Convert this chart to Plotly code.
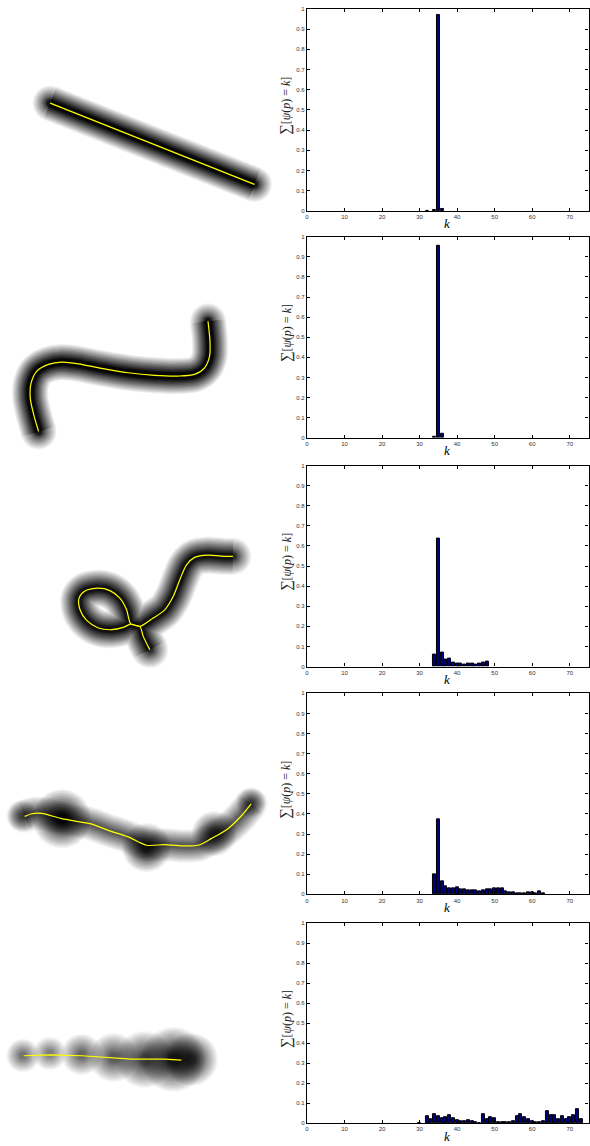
import plotly.graph_objects as go

W, H = 590, 1146

# ---------------- histogram data (k -> fraction) ----------------
hist1_k = [32, 34, 35, 36]
hist1_v = [0.002, 0.007, 0.972, 0.008]

hist2_k = [34, 35, 36]
hist2_v = [0.006, 0.955, 0.02]

hist3_k = list(range(34, 49))
hist3_v = [0.061, 0.637, 0.07, 0.033, 0.041, 0.02, 0.013, 0.013, 0.008, 0.013,
           0.013, 0.01, 0.014, 0.02, 0.023]

hist4_k = list(range(34, 64))
hist4_v = [0.098, 0.375, 0.066, 0.041, 0.03, 0.028, 0.033, 0.025, 0.023, 0.021,
           0.02, 0.02, 0.016, 0.021, 0.026, 0.025, 0.03, 0.03, 0.03, 0.013,
           0.008, 0.008, 0.005, 0.007, 0.004, 0.008, 0.012, 0.007, 0.013, 0.004]

hist5_k = [30] + list(range(32, 74))
hist5_v = [0.002,
           0.033, 0.02, 0.043, 0.037, 0.025, 0.03, 0.038, 0.025, 0.013, 0.01,
           0.012, 0.015, 0.012, 0.003, 0.002, 0.047, 0.022, 0.03, 0.027, 0.005,
           0.003, 0.003, 0.005, 0.01, 0.033, 0.047, 0.028, 0.022, 0.012, 0.007,
           0.007, 0.01, 0.058, 0.04, 0.04, 0.022, 0.033, 0.02, 0.028, 0.042,
           0.072, 0.018]

x_ticks = [0, 10, 20, 30, 40, 50, 60, 70]
y_ticks = [0, 0.1, 0.2, 0.3, 0.4, 0.5, 0.6, 0.7, 0.8, 0.9, 1]
y_tick_labels = ["0", "0.1", "0.2", "0.3", "0.4", "0.5", "0.6", "0.7", "0.8", "0.9", "1"]

# ---------------- skeleton / blob data (image pixel coords) ----------------
shape1_x = [48.3, 253.3]
shape1_y = [100.7, 182.3]

shape2_x = [36.7, 31.7, 28.3, 29.3, 35, 46.7, 60, 76.7, 100, 126.7, 153.3, 176.7,
            193.3, 203.3, 208.3, 208.7, 206.7]
shape2_y = [430.7, 413.3, 396.7, 381.7, 370, 363.3, 361, 362.7, 367.3, 371.7, 374.3,
            375, 373.3, 366.7, 355, 340, 320]

shape3_x = [148.3, 141.7, 138.3, 129.3, 125, 118.3, 108.3, 96.7, 83.3, 77.3, 78.3, 85,
            96.7, 110, 121.7, 129.3, 138.3, 151.7, 163.3, 171.7, 178.3, 185, 193.3,
            206.7, 220, 231.7]
shape3_y = [650, 636.7, 626.7, 624.3, 610, 598.3, 590.7, 588.3, 591, 598.3, 610, 620.7,
            628.3, 630, 627.7, 624.3, 626.7, 618.3, 610, 596.7, 580, 565, 557.3,
            555, 556, 556.3]

shape4_x = [22.7, 30, 40, 60, 88.3, 106.7, 126.7, 145, 163.3, 180, 196.7, 210, 226.7,
            240, 250]
shape4_y = [817.7, 815, 814.7, 820, 825, 831.7, 838.3, 846.7, 846, 847.3, 846.7, 840,
            830, 817.3, 805]
blob4_x = [20, 60, 145, 213, 250]
blob4_y = [817, 820, 849, 835, 804]
blob4_r = [16, 30, 25, 23, 15]
blob4_d = [0.5, 0.92, 0.82, 0.75, 0.5]

shape5_x = [21.7, 48, 80, 130, 163.3, 180]
shape5_y = [1058.3, 1057.5, 1058.3, 1061.7, 1061.7, 1062.7]
blob5_x = [21, 48, 80, 112, 143, 172, 190]
blob5_y = [1058, 1056, 1057, 1060, 1062, 1062, 1062]
blob5_r = [17, 17, 21, 25, 29, 33, 27]
blob5_d = [0.5, 0.45, 0.55, 0.6, 0.7, 0.85, 0.75]

# ---------------- panel geometry (pixels) ----------------
px_left, px_right = 306, 588.5
panel_tops = [6, 235, 465, 694, 925]
panel_bottoms = [209, 437, 667, 896, 1126]

fig = go.Figure()

N_LEVELS = 16


def glow_levels(core, outer, strength):
    """Stack of (radius, opacity): plateau up to `core`, linear fade to 0 at `outer`."""
    out = []
    prev = 0.0
    for j in range(1, N_LEVELS + 1):
        D = strength * j / N_LEVELS
        r = core + (outer - core) * (1 - (j - 0.5) / N_LEVELS)
        a = 1 - (1 - D) / (1 - prev)
        prev = D
        out.append((r, a))
    return out


def add_tube(xs, ys, core, outer, strength, shape="spline"):
    for r, a in glow_levels(core, outer, strength):
        w = 2 * r
        sizes = [0] * len(xs)
        sizes[0] = w
        sizes[-1] = w
        fig.add_trace(go.Scatter(
            x=xs, y=ys, mode="lines+markers",
            line=dict(color="black", width=w, shape=shape, smoothing=0.8),
            marker=dict(size=sizes, color="black", line=dict(width=0)),
            opacity=a, xaxis="x6", yaxis="y6", hoverinfo="skip", showlegend=False))


def add_blob(x, y, outer_r, strength):
    for r, a in glow_levels(0.15 * outer_r, outer_r, strength):
        fig.add_trace(go.Scatter(
            x=[x], y=[y], mode="markers",
            marker=dict(size=2 * r, color="black", line=dict(width=0)),
            opacity=a, xaxis="x6", yaxis="y6", hoverinfo="skip", showlegend=False))


def add_skeleton(xs, ys, shape="spline"):
    fig.add_trace(go.Scatter(
        x=xs, y=ys, mode="lines",
        line=dict(color="#FFFF00", width=1.2, shape=shape, smoothing=0.8),
        xaxis="x6", yaxis="y6", hoverinfo="skip", showlegend=False))


# panel 1
add_tube(shape1_x, shape1_y, 3, 18, 0.97, shape="linear")
add_skeleton(shape1_x, shape1_y, shape="linear")
# panel 2
add_tube(shape2_x, shape2_y, 3, 18.5, 0.97)
add_skeleton(shape2_x, shape2_y)
# panel 3
add_tube(shape3_x, shape3_y, 2.5, 19, 0.92)
add_skeleton(shape3_x, shape3_y)
# panel 4
add_tube(shape4_x, shape4_y, 2, 17, 0.6)
for bx, by, br, bd in zip(blob4_x, blob4_y, blob4_r, blob4_d):
    add_blob(bx, by, br, bd)
add_skeleton(shape4_x, shape4_y)
# panel 5
for bx, by, br, bd in zip(blob5_x, blob5_y, blob5_r, blob5_d):
    add_blob(bx, by, br, bd)
add_skeleton(shape5_x, shape5_y, shape="linear")

# ---------------- histograms ----------------
hists = [(hist1_k, hist1_v), (hist2_k, hist2_v), (hist3_k, hist3_v),
         (hist4_k, hist4_v), (hist5_k, hist5_v)]

tick_font = dict(family="Liberation Sans, Arial, sans-serif", size=6, color="#333")
layout_axes = {}
annotations = []
for i, (ks, vs) in enumerate(hists):
    n = "" if i == 0 else str(i + 1)
    fig.add_trace(go.Bar(
        x=ks, y=vs, width=0.8,
        marker=dict(color="#000080", line=dict(color="black", width=1)),
        xaxis="x" + n, yaxis="y" + n, showlegend=False, hoverinfo="skip"))
    top, bot = panel_tops[i], panel_bottoms[i]
    layout_axes["xaxis" + n] = dict(
        domain=[px_left / W, px_right / W], range=[0, 75], anchor="y" + n,
        tickvals=x_ticks, ticks="inside", ticklen=3, tickcolor="black",
        showline=True, linecolor="black", linewidth=1.2, mirror="ticks",
        showgrid=False, zeroline=False, tickfont=tick_font, fixedrange=True)
    layout_axes["yaxis" + n] = dict(
        domain=[1 - bot / H, 1 - top / H], range=[0, 1], anchor="x" + n,
        tickvals=y_ticks, ticktext=y_tick_labels, ticks="inside", ticklen=3,
        tickcolor="black", showline=True, linecolor="black", linewidth=1.2,
        mirror="ticks", showgrid=False, zeroline=False, tickfont=tick_font,
        fixedrange=True)
    annotations.append(dict(
        text="<i>k</i>", x=447 / W, y=1 - (bot + 13) / H, xref="paper", yref="paper",
        showarrow=False, font=dict(family="Liberation Serif, serif", size=13, color="black"),
        xanchor="center", yanchor="middle"))
    annotations.append(dict(
        text="<span style='font-size:15px'>∑</span>[<i>ψ</i>(<i>p</i>) = <i>k</i>]",
        x=285 / W, y=1 - ((top + bot) / 2 - 4) / H,
        xref="paper", yref="paper", showarrow=False, textangle=-90,
        font=dict(family="Liberation Serif, serif", size=12, color="#222"),
        xanchor="center", yanchor="middle"))

layout_axes["xaxis6"] = dict(domain=[0, 300 / W], range=[0, 300], visible=False,
                             anchor="y6", fixedrange=True)
layout_axes["yaxis6"] = dict(domain=[0, 1], range=[H, 0], visible=False,
                             anchor="x6", fixedrange=True)

fig.update_layout(
    width=W, height=H, margin=dict(l=0, r=0, t=0, b=0),
    paper_bgcolor="white", plot_bgcolor="white", showlegend=False,
    bargap=0, annotations=annotations, **layout_axes)

fig.write_html("out.html")
